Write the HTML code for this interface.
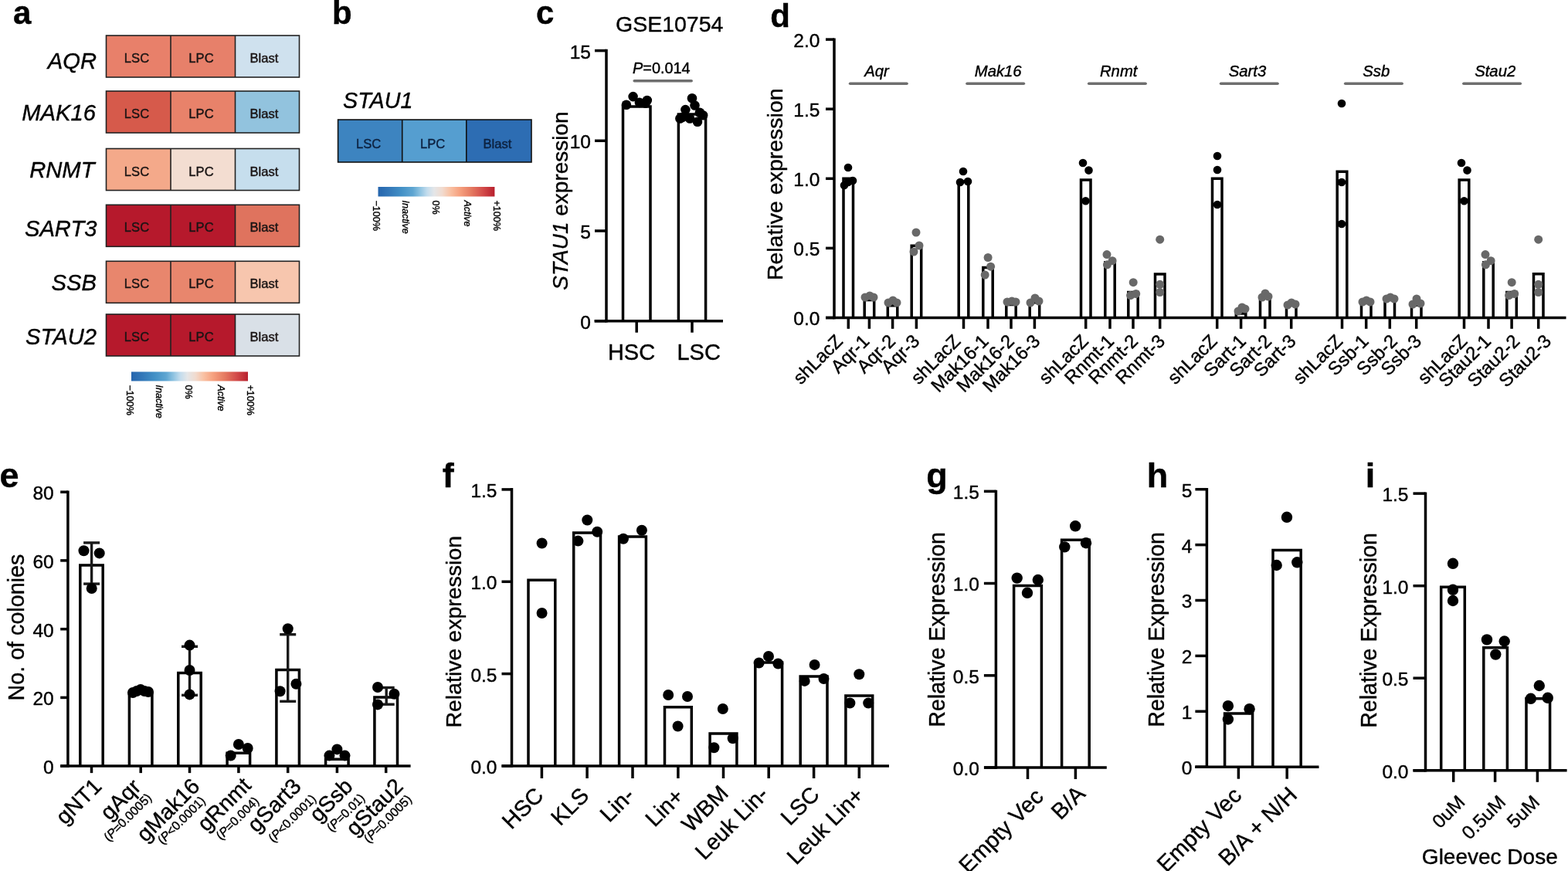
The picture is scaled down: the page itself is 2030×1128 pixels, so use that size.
<!DOCTYPE html>
<html><head><meta charset="utf-8"><title>Figure</title>
<style>html,body{margin:0;padding:0;background:#fff;width:2030px;height:1128px;overflow:hidden}</style>
</head><body>
<svg width="2030" height="1128" viewBox="0 0 2030 1128" style="display:block;font-family:'Liberation Sans', Arial, Helvetica, sans-serif"><defs><linearGradient id="rdbu" x1="0" x2="1" y1="0" y2="0"><stop offset="0.000" stop-color="#2565ad"/><stop offset="0.100" stop-color="#3479b9"/><stop offset="0.200" stop-color="#4290c6"/><stop offset="0.300" stop-color="#5fa6d2"/><stop offset="0.360" stop-color="#8ec3e1"/><stop offset="0.420" stop-color="#c3dced"/><stop offset="0.480" stop-color="#e4e6e8"/><stop offset="0.550" stop-color="#f1dbcf"/><stop offset="0.620" stop-color="#f9c1a3"/><stop offset="0.700" stop-color="#f6a17f"/><stop offset="0.800" stop-color="#e57a61"/><stop offset="0.900" stop-color="#d34c4a"/><stop offset="1.000" stop-color="#b8202e"/></linearGradient></defs>
<text x="17.0" y="31.0" text-anchor="start" style="font-size:42px;stroke:#000;stroke-width:0.4px;font-weight:bold;">a</text>
<text x="430.0" y="31.0" text-anchor="start" style="font-size:42px;stroke:#000;stroke-width:0.4px;font-weight:bold;">b</text>
<text x="694.0" y="31.0" text-anchor="start" style="font-size:42px;stroke:#000;stroke-width:0.4px;font-weight:bold;">c</text>
<text x="997.3" y="35.2" text-anchor="start" style="font-size:42px;stroke:#000;stroke-width:0.4px;font-weight:bold;">d</text>
<text x="-0.5" y="630.6" text-anchor="start" style="font-size:45px;stroke:#000;stroke-width:0.4px;font-weight:bold;">e</text>
<text x="572.8" y="630.6" text-anchor="start" style="font-size:45px;stroke:#000;stroke-width:0.4px;font-weight:bold;">f</text>
<text x="1199.3" y="630.6" text-anchor="start" style="font-size:45px;stroke:#000;stroke-width:0.4px;font-weight:bold;">g</text>
<text x="1484.8" y="630.6" text-anchor="start" style="font-size:45px;stroke:#000;stroke-width:0.4px;font-weight:bold;">h</text>
<text x="1767.8" y="630.6" text-anchor="start" style="font-size:45px;stroke:#000;stroke-width:0.4px;font-weight:bold;">i</text>
<rect x="137.5" y="46.0" width="83.5" height="54.0" fill="#E8806A"/>
<rect x="221.0" y="46.0" width="83.5" height="54.0" fill="#E7806A"/>
<rect x="304.5" y="46.0" width="83.0" height="54.0" fill="#CFE1EE"/>
<rect x="137.5" y="46.0" width="250.0" height="54.0" fill="none" stroke="#222" stroke-width="1.6"/>
<line x1="221.0" y1="46.0" x2="221.0" y2="100.0" stroke="#222" stroke-width="1.6" stroke-linecap="butt"/>
<line x1="304.5" y1="46.0" x2="304.5" y2="100.0" stroke="#222" stroke-width="1.6" stroke-linecap="butt"/>
<text x="125.0" y="89.2" text-anchor="end" style="font-size:29.2px;stroke:#000;stroke-width:0.4px;font-style:italic;">AQR</text>
<text x="177.0" y="81.0" text-anchor="middle" style="font-size:16.6px;stroke:#1a1414;stroke-width:0.4px;fill:#1a1414;">LSC</text>
<text x="260.5" y="81.0" text-anchor="middle" style="font-size:16.6px;stroke:#1a1414;stroke-width:0.4px;fill:#1a1414;">LPC</text>
<text x="342.0" y="81.0" text-anchor="middle" style="font-size:16.6px;stroke:#1a1414;stroke-width:0.4px;fill:#1a1414;">Blast</text>
<rect x="137.5" y="118.0" width="83.5" height="54.0" fill="#D65A4B"/>
<rect x="221.0" y="118.0" width="83.5" height="54.0" fill="#E8826A"/>
<rect x="304.5" y="118.0" width="83.0" height="54.0" fill="#92C3DE"/>
<rect x="137.5" y="118.0" width="250.0" height="54.0" fill="none" stroke="#222" stroke-width="1.6"/>
<line x1="221.0" y1="118.0" x2="221.0" y2="172.0" stroke="#222" stroke-width="1.6" stroke-linecap="butt"/>
<line x1="304.5" y1="118.0" x2="304.5" y2="172.0" stroke="#222" stroke-width="1.6" stroke-linecap="butt"/>
<text x="124.0" y="156.3" text-anchor="end" style="font-size:29.2px;stroke:#000;stroke-width:0.4px;font-style:italic;">MAK16</text>
<text x="177.0" y="153.0" text-anchor="middle" style="font-size:16.6px;stroke:#1a1414;stroke-width:0.4px;fill:#1a1414;">LSC</text>
<text x="260.5" y="153.0" text-anchor="middle" style="font-size:16.6px;stroke:#1a1414;stroke-width:0.4px;fill:#1a1414;">LPC</text>
<text x="342.0" y="153.0" text-anchor="middle" style="font-size:16.6px;stroke:#1a1414;stroke-width:0.4px;fill:#1a1414;">Blast</text>
<rect x="137.5" y="192.5" width="83.5" height="54.0" fill="#F4A98A"/>
<rect x="221.0" y="192.5" width="83.5" height="54.0" fill="#F3DDD1"/>
<rect x="304.5" y="192.5" width="83.0" height="54.0" fill="#C6DEED"/>
<rect x="137.5" y="192.5" width="250.0" height="54.0" fill="none" stroke="#222" stroke-width="1.6"/>
<line x1="221.0" y1="192.5" x2="221.0" y2="246.5" stroke="#222" stroke-width="1.6" stroke-linecap="butt"/>
<line x1="304.5" y1="192.5" x2="304.5" y2="246.5" stroke="#222" stroke-width="1.6" stroke-linecap="butt"/>
<text x="122.5" y="229.5" text-anchor="end" style="font-size:29.2px;stroke:#000;stroke-width:0.4px;font-style:italic;">RNMT</text>
<text x="177.0" y="227.5" text-anchor="middle" style="font-size:16.6px;stroke:#1a1414;stroke-width:0.4px;fill:#1a1414;">LSC</text>
<text x="260.5" y="227.5" text-anchor="middle" style="font-size:16.6px;stroke:#1a1414;stroke-width:0.4px;fill:#1a1414;">LPC</text>
<text x="342.0" y="227.5" text-anchor="middle" style="font-size:16.6px;stroke:#1a1414;stroke-width:0.4px;fill:#1a1414;">Blast</text>
<rect x="137.5" y="265.3" width="83.5" height="54.0" fill="#B6192C"/>
<rect x="221.0" y="265.3" width="83.5" height="54.0" fill="#B6192C"/>
<rect x="304.5" y="265.3" width="83.0" height="54.0" fill="#DF735E"/>
<rect x="137.5" y="265.3" width="250.0" height="54.0" fill="none" stroke="#222" stroke-width="1.6"/>
<line x1="221.0" y1="265.3" x2="221.0" y2="319.3" stroke="#222" stroke-width="1.6" stroke-linecap="butt"/>
<line x1="304.5" y1="265.3" x2="304.5" y2="319.3" stroke="#222" stroke-width="1.6" stroke-linecap="butt"/>
<text x="125.5" y="306.3" text-anchor="end" style="font-size:29.2px;stroke:#000;stroke-width:0.4px;font-style:italic;">SART3</text>
<text x="177.0" y="300.3" text-anchor="middle" style="font-size:16.6px;stroke:#1a1414;stroke-width:0.4px;fill:#1a1414;">LSC</text>
<text x="260.5" y="300.3" text-anchor="middle" style="font-size:16.6px;stroke:#1a1414;stroke-width:0.4px;fill:#1a1414;">LPC</text>
<text x="342.0" y="300.3" text-anchor="middle" style="font-size:16.6px;stroke:#1a1414;stroke-width:0.4px;fill:#1a1414;">Blast</text>
<rect x="137.5" y="338.3" width="83.5" height="54.0" fill="#E8866D"/>
<rect x="221.0" y="338.3" width="83.5" height="54.0" fill="#E8866D"/>
<rect x="304.5" y="338.3" width="83.0" height="54.0" fill="#F7C6AE"/>
<rect x="137.5" y="338.3" width="250.0" height="54.0" fill="none" stroke="#222" stroke-width="1.6"/>
<line x1="221.0" y1="338.3" x2="221.0" y2="392.3" stroke="#222" stroke-width="1.6" stroke-linecap="butt"/>
<line x1="304.5" y1="338.3" x2="304.5" y2="392.3" stroke="#222" stroke-width="1.6" stroke-linecap="butt"/>
<text x="125.0" y="375.9" text-anchor="end" style="font-size:29.2px;stroke:#000;stroke-width:0.4px;font-style:italic;">SSB</text>
<text x="177.0" y="373.3" text-anchor="middle" style="font-size:16.6px;stroke:#1a1414;stroke-width:0.4px;fill:#1a1414;">LSC</text>
<text x="260.5" y="373.3" text-anchor="middle" style="font-size:16.6px;stroke:#1a1414;stroke-width:0.4px;fill:#1a1414;">LPC</text>
<text x="342.0" y="373.3" text-anchor="middle" style="font-size:16.6px;stroke:#1a1414;stroke-width:0.4px;fill:#1a1414;">Blast</text>
<rect x="137.5" y="407.0" width="83.5" height="54.0" fill="#B6192C"/>
<rect x="221.0" y="407.0" width="83.5" height="54.0" fill="#B6192C"/>
<rect x="304.5" y="407.0" width="83.0" height="54.0" fill="#D9E0E7"/>
<rect x="137.5" y="407.0" width="250.0" height="54.0" fill="none" stroke="#222" stroke-width="1.6"/>
<line x1="221.0" y1="407.0" x2="221.0" y2="461.0" stroke="#222" stroke-width="1.6" stroke-linecap="butt"/>
<line x1="304.5" y1="407.0" x2="304.5" y2="461.0" stroke="#222" stroke-width="1.6" stroke-linecap="butt"/>
<text x="125.0" y="446.0" text-anchor="end" style="font-size:29.2px;stroke:#000;stroke-width:0.4px;font-style:italic;">STAU2</text>
<text x="177.0" y="442.0" text-anchor="middle" style="font-size:16.6px;stroke:#1a1414;stroke-width:0.4px;fill:#1a1414;">LSC</text>
<text x="260.5" y="442.0" text-anchor="middle" style="font-size:16.6px;stroke:#1a1414;stroke-width:0.4px;fill:#1a1414;">LPC</text>
<text x="342.0" y="442.0" text-anchor="middle" style="font-size:16.6px;stroke:#1a1414;stroke-width:0.4px;fill:#1a1414;">Blast</text>
<rect x="170" y="481.5" width="151" height="12.0" fill="url(#rdbu)"/>
<text transform="translate(163.5,498.5) rotate(90)" text-anchor="start" style="font-size:12.5px;stroke:#000;stroke-width:0.4px;">−100%</text>
<text transform="translate(201.5,498.5) rotate(90)" text-anchor="start" style="font-size:12.5px;stroke:#000;stroke-width:0.4px;font-style:italic;">Inactive</text>
<text transform="translate(240.0,498.5) rotate(90)" text-anchor="start" style="font-size:12.5px;stroke:#000;stroke-width:0.4px;">0%</text>
<text transform="translate(281.5,498.5) rotate(90)" text-anchor="start" style="font-size:12.5px;stroke:#000;stroke-width:0.4px;font-style:italic;">Active</text>
<text transform="translate(319.5,498.5) rotate(90)" text-anchor="start" style="font-size:12.5px;stroke:#000;stroke-width:0.4px;">+100%</text>
<text x="444.0" y="140.0" text-anchor="start" style="font-size:28.7px;stroke:#000;stroke-width:0.4px;font-style:italic;">STAU1</text>
<rect x="437.6" y="155.0" width="83.1" height="55.0" fill="#3D84C0"/>
<rect x="520.7" y="155.0" width="83.1" height="55.0" fill="#559ED0"/>
<rect x="603.8" y="155.0" width="84.2" height="55.0" fill="#2D6DB3"/>
<rect x="437.6" y="155.0" width="250.4" height="55.0" fill="none" stroke="#111" stroke-width="1.6"/>
<line x1="520.7" y1="155.0" x2="520.7" y2="210.0" stroke="#111" stroke-width="1.6" stroke-linecap="butt"/>
<line x1="603.8" y1="155.0" x2="603.8" y2="210.0" stroke="#111" stroke-width="1.6" stroke-linecap="butt"/>
<text x="477.2" y="192.0" text-anchor="middle" style="font-size:16.6px;stroke:#0d2240;stroke-width:0.4px;fill:#0d2240;">LSC</text>
<text x="560.2" y="192.0" text-anchor="middle" style="font-size:16.6px;stroke:#0d2240;stroke-width:0.4px;fill:#0d2240;">LPC</text>
<text x="643.9" y="192.0" text-anchor="middle" style="font-size:16.6px;stroke:#0d2240;stroke-width:0.4px;fill:#0d2240;">Blast</text>
<rect x="489.5" y="242" width="150.89999999999998" height="12.5" fill="url(#rdbu)"/>
<text transform="translate(483.0,259.5) rotate(90)" text-anchor="start" style="font-size:12.5px;stroke:#000;stroke-width:0.4px;">−100%</text>
<text transform="translate(521.0,259.5) rotate(90)" text-anchor="start" style="font-size:12.5px;stroke:#000;stroke-width:0.4px;font-style:italic;">Inactive</text>
<text transform="translate(559.5,259.5) rotate(90)" text-anchor="start" style="font-size:12.5px;stroke:#000;stroke-width:0.4px;">0%</text>
<text transform="translate(601.0,259.5) rotate(90)" text-anchor="start" style="font-size:12.5px;stroke:#000;stroke-width:0.4px;font-style:italic;">Active</text>
<text transform="translate(639.0,259.5) rotate(90)" text-anchor="start" style="font-size:12.5px;stroke:#000;stroke-width:0.4px;">+100%</text>
<line x1="785.0" y1="63.8" x2="785.0" y2="417.4" stroke="#000" stroke-width="3.5" stroke-linecap="butt"/>
<line x1="770.0" y1="415.7" x2="785.0" y2="415.7" stroke="#000" stroke-width="3.5" stroke-linecap="butt"/>
<text x="765.0" y="425.6" text-anchor="end" style="font-size:24.5px;stroke:#000;stroke-width:0.4px;">0</text>
<line x1="770.0" y1="299.0" x2="785.0" y2="299.0" stroke="#000" stroke-width="3.5" stroke-linecap="butt"/>
<text x="765.0" y="308.9" text-anchor="end" style="font-size:24.5px;stroke:#000;stroke-width:0.4px;">5</text>
<line x1="770.0" y1="182.3" x2="785.0" y2="182.3" stroke="#000" stroke-width="3.5" stroke-linecap="butt"/>
<text x="765.0" y="192.2" text-anchor="end" style="font-size:24.5px;stroke:#000;stroke-width:0.4px;">10</text>
<line x1="770.0" y1="65.6" x2="785.0" y2="65.6" stroke="#000" stroke-width="3.5" stroke-linecap="butt"/>
<text x="765.0" y="75.5" text-anchor="end" style="font-size:24.5px;stroke:#000;stroke-width:0.4px;">15</text>
<path d="M806.5,415.7 L806.5,138.0 L842.0,138.0 L842.0,415.7" fill="#fff" stroke="#000" stroke-width="3.5" stroke-linejoin="miter"/>
<path d="M878.4,415.7 L878.4,148.0 L913.6,148.0 L913.6,415.7" fill="#fff" stroke="#000" stroke-width="3.5" stroke-linejoin="miter"/>
<line x1="769.5" y1="415.7" x2="936.0" y2="415.7" stroke="#000" stroke-width="3.5" stroke-linecap="butt"/>
<line x1="824.2" y1="415.7" x2="824.2" y2="430.7" stroke="#000" stroke-width="3.5" stroke-linecap="butt"/>
<line x1="896.0" y1="415.7" x2="896.0" y2="430.7" stroke="#000" stroke-width="3.5" stroke-linecap="butt"/>
<circle cx="810.9" cy="135.7" r="6.3" fill="#000"/>
<circle cx="819.6" cy="125.1" r="6.3" fill="#000"/>
<circle cx="827.9" cy="132.9" r="6.3" fill="#000"/>
<circle cx="837.8" cy="130.0" r="6.3" fill="#000"/>
<circle cx="835.7" cy="133.6" r="6.3" fill="#000"/>
<circle cx="896.0" cy="127.2" r="6.3" fill="#000"/>
<circle cx="899.5" cy="136.5" r="6.3" fill="#000"/>
<circle cx="887.4" cy="142.1" r="6.3" fill="#000"/>
<circle cx="883.2" cy="152.0" r="6.3" fill="#000"/>
<circle cx="905.9" cy="145.7" r="6.3" fill="#000"/>
<circle cx="910.1" cy="149.2" r="6.3" fill="#000"/>
<circle cx="903.0" cy="157.7" r="6.3" fill="#000"/>
<circle cx="893.1" cy="153.5" r="6.3" fill="#000"/>
<circle cx="880.4" cy="153.5" r="6.3" fill="#000"/>
<line x1="821.2" y1="104.7" x2="895.2" y2="104.7" stroke="#6e6e6e" stroke-width="3.5" stroke-linecap="round"/>
<text x="819.0" y="94.6" text-anchor="start" style="font-size:19.9px;stroke:#000;stroke-width:0.4px;"><tspan style="font-style:italic">P</tspan>=0.014</text>
<text x="866.7" y="41.0" text-anchor="middle" style="font-size:28.5px;stroke:#000;stroke-width:0.4px;">GSE10754</text>
<text x="817.5" y="466.0" text-anchor="middle" style="font-size:29px;stroke:#000;stroke-width:0.4px;">HSC</text>
<text x="904.7" y="466.0" text-anchor="middle" style="font-size:29px;stroke:#000;stroke-width:0.4px;">LSC</text>
<text transform="translate(735.0,260.0) rotate(-90)" text-anchor="middle" style="font-size:28px;stroke:#000;stroke-width:0.4px;"><tspan style="font-style:italic">STAU1</tspan> expression</text>
<line x1="1080.0" y1="49.5" x2="1080.0" y2="413.2" stroke="#000" stroke-width="3.5" stroke-linecap="butt"/>
<line x1="1069.0" y1="411.5" x2="1080.0" y2="411.5" stroke="#000" stroke-width="3.5" stroke-linecap="butt"/>
<text x="1061.4" y="421.4" text-anchor="end" style="font-size:24.5px;stroke:#000;stroke-width:0.4px;">0.0</text>
<line x1="1069.0" y1="321.4" x2="1080.0" y2="321.4" stroke="#000" stroke-width="3.5" stroke-linecap="butt"/>
<text x="1061.4" y="331.3" text-anchor="end" style="font-size:24.5px;stroke:#000;stroke-width:0.4px;">0.5</text>
<line x1="1069.0" y1="231.3" x2="1080.0" y2="231.3" stroke="#000" stroke-width="3.5" stroke-linecap="butt"/>
<text x="1061.4" y="241.2" text-anchor="end" style="font-size:24.5px;stroke:#000;stroke-width:0.4px;">1.0</text>
<line x1="1069.0" y1="141.2" x2="1080.0" y2="141.2" stroke="#000" stroke-width="3.5" stroke-linecap="butt"/>
<text x="1061.4" y="151.1" text-anchor="end" style="font-size:24.5px;stroke:#000;stroke-width:0.4px;">1.5</text>
<line x1="1069.0" y1="51.1" x2="1080.0" y2="51.1" stroke="#000" stroke-width="3.5" stroke-linecap="butt"/>
<text x="1061.4" y="61.0" text-anchor="end" style="font-size:24.5px;stroke:#000;stroke-width:0.4px;">2.0</text>
<path d="M1092.0,411.5 L1092.0,231.3 L1104.5,231.3 L1104.5,411.5" fill="#fff" stroke="#000" stroke-width="3.5" stroke-linejoin="miter"/>
<path d="M1119.2,411.5 L1119.2,388.6 L1131.7,388.6 L1131.7,411.5" fill="#fff" stroke="#000" stroke-width="3.5" stroke-linejoin="miter"/>
<path d="M1149.3,411.5 L1149.3,395.8 L1161.8,395.8 L1161.8,411.5" fill="#fff" stroke="#000" stroke-width="3.5" stroke-linejoin="miter"/>
<path d="M1180.2,411.5 L1180.2,318.3 L1192.7,318.3 L1192.7,411.5" fill="#fff" stroke="#000" stroke-width="3.5" stroke-linejoin="miter"/>
<circle cx="1098.0" cy="217.0" r="5.3" fill="#000"/>
<circle cx="1093.0" cy="240.0" r="5.3" fill="#000"/>
<circle cx="1104.0" cy="234.0" r="5.3" fill="#000"/>
<circle cx="1098.0" cy="236.0" r="5.3" fill="#000"/>
<circle cx="1120.0" cy="385.0" r="5.5" fill="#686868"/>
<circle cx="1126.0" cy="383.0" r="5.5" fill="#686868"/>
<circle cx="1131.0" cy="385.0" r="5.5" fill="#686868"/>
<circle cx="1150.0" cy="392.0" r="5.5" fill="#686868"/>
<circle cx="1156.0" cy="389.0" r="5.5" fill="#686868"/>
<circle cx="1161.0" cy="392.0" r="5.5" fill="#686868"/>
<circle cx="1186.0" cy="301.0" r="5.5" fill="#686868"/>
<circle cx="1183.0" cy="326.0" r="5.5" fill="#686868"/>
<circle cx="1190.0" cy="318.0" r="5.5" fill="#686868"/>
<line x1="1100.6" y1="108.3" x2="1174.0" y2="108.3" stroke="#6e6e6e" stroke-width="3.6" stroke-linecap="round"/>
<text x="1135.0" y="99.0" text-anchor="middle" style="font-size:20.3px;stroke:#000;stroke-width:0.4px;font-style:italic;">Aqr</text>
<text transform="translate(1092.4,443.3) rotate(-45)" text-anchor="end" style="font-size:24px;stroke:#000;stroke-width:0.4px;">shLacZ</text>
<text transform="translate(1127.0,443.3) rotate(-45)" text-anchor="end" style="font-size:24px;stroke:#000;stroke-width:0.4px;">Aqr-1</text>
<text transform="translate(1160.6,443.3) rotate(-45)" text-anchor="end" style="font-size:24px;stroke:#000;stroke-width:0.4px;">Aqr-2</text>
<text transform="translate(1192.0,443.3) rotate(-45)" text-anchor="end" style="font-size:24px;stroke:#000;stroke-width:0.4px;">Aqr-3</text>
<path d="M1241.2,411.5 L1241.2,234.9 L1253.8,234.9 L1253.8,411.5" fill="#fff" stroke="#000" stroke-width="3.5" stroke-linejoin="miter"/>
<path d="M1272.8,411.5 L1272.8,346.6 L1285.2,346.6 L1285.2,411.5" fill="#fff" stroke="#000" stroke-width="3.5" stroke-linejoin="miter"/>
<path d="M1302.8,411.5 L1302.8,394.4 L1315.2,394.4 L1315.2,411.5" fill="#fff" stroke="#000" stroke-width="3.5" stroke-linejoin="miter"/>
<path d="M1333.2,411.5 L1333.2,391.7 L1345.7,391.7 L1345.7,411.5" fill="#fff" stroke="#000" stroke-width="3.5" stroke-linejoin="miter"/>
<circle cx="1247.0" cy="222.0" r="5.3" fill="#000"/>
<circle cx="1243.0" cy="236.0" r="5.3" fill="#000"/>
<circle cx="1253.0" cy="235.0" r="5.3" fill="#000"/>
<circle cx="1279.1" cy="333.5" r="5.5" fill="#686868"/>
<circle cx="1282.6" cy="345.2" r="5.5" fill="#686868"/>
<circle cx="1275.2" cy="356.0" r="5.5" fill="#686868"/>
<circle cx="1304.0" cy="391.0" r="5.5" fill="#686868"/>
<circle cx="1310.0" cy="390.0" r="5.5" fill="#686868"/>
<circle cx="1315.0" cy="391.0" r="5.5" fill="#686868"/>
<circle cx="1334.0" cy="392.0" r="5.5" fill="#686868"/>
<circle cx="1340.0" cy="386.0" r="5.5" fill="#686868"/>
<circle cx="1345.0" cy="390.0" r="5.5" fill="#686868"/>
<line x1="1252.0" y1="108.3" x2="1325.4" y2="108.3" stroke="#6e6e6e" stroke-width="3.6" stroke-linecap="round"/>
<text x="1292.2" y="99.0" text-anchor="middle" style="font-size:20.3px;stroke:#000;stroke-width:0.4px;font-style:italic;">Mak16</text>
<text transform="translate(1244.8,443.3) rotate(-45)" text-anchor="end" style="font-size:24px;stroke:#000;stroke-width:0.4px;">shLacZ</text>
<text transform="translate(1281.2,443.3) rotate(-45)" text-anchor="end" style="font-size:24px;stroke:#000;stroke-width:0.4px;">Mak16-1</text>
<text transform="translate(1314.4,443.3) rotate(-45)" text-anchor="end" style="font-size:24px;stroke:#000;stroke-width:0.4px;">Mak16-2</text>
<text transform="translate(1348.0,443.3) rotate(-45)" text-anchor="end" style="font-size:24px;stroke:#000;stroke-width:0.4px;">Mak16-3</text>
<path d="M1399.5,411.5 L1399.5,233.1 L1412.0,233.1 L1412.0,411.5" fill="#fff" stroke="#000" stroke-width="3.5" stroke-linejoin="miter"/>
<path d="M1430.8,411.5 L1430.8,339.8 L1443.2,339.8 L1443.2,411.5" fill="#fff" stroke="#000" stroke-width="3.5" stroke-linejoin="miter"/>
<path d="M1460.8,411.5 L1460.8,378.5 L1473.2,378.5 L1473.2,411.5" fill="#fff" stroke="#000" stroke-width="3.5" stroke-linejoin="miter"/>
<path d="M1495.5,411.5 L1495.5,354.9 L1508.0,354.9 L1508.0,411.5" fill="#fff" stroke="#000" stroke-width="3.5" stroke-linejoin="miter"/>
<circle cx="1402.0" cy="211.0" r="5.3" fill="#000"/>
<circle cx="1409.5" cy="220.6" r="5.3" fill="#000"/>
<circle cx="1405.5" cy="260.3" r="5.3" fill="#000"/>
<circle cx="1433.0" cy="329.6" r="5.5" fill="#686868"/>
<circle cx="1440.1" cy="337.7" r="5.5" fill="#686868"/>
<circle cx="1433.4" cy="342.8" r="5.5" fill="#686868"/>
<circle cx="1467.2" cy="365.7" r="5.5" fill="#686868"/>
<circle cx="1463.6" cy="382.6" r="5.5" fill="#686868"/>
<circle cx="1470.7" cy="380.5" r="5.5" fill="#686868"/>
<circle cx="1501.7" cy="310.2" r="5.5" fill="#686868"/>
<circle cx="1501.7" cy="368.3" r="5.5" fill="#686868"/>
<circle cx="1501.7" cy="378.5" r="5.5" fill="#686868"/>
<line x1="1409.7" y1="108.3" x2="1483.1" y2="108.3" stroke="#6e6e6e" stroke-width="3.6" stroke-linecap="round"/>
<text x="1448.2" y="99.0" text-anchor="middle" style="font-size:20.3px;stroke:#000;stroke-width:0.4px;font-style:italic;">Rnmt</text>
<text transform="translate(1410.3,443.3) rotate(-45)" text-anchor="end" style="font-size:24px;stroke:#000;stroke-width:0.4px;">shLacZ</text>
<text transform="translate(1443.6,443.3) rotate(-45)" text-anchor="end" style="font-size:24px;stroke:#000;stroke-width:0.4px;">Rnmt-1</text>
<text transform="translate(1474.6,443.3) rotate(-45)" text-anchor="end" style="font-size:24px;stroke:#000;stroke-width:0.4px;">Rnmt-2</text>
<text transform="translate(1509.6,443.3) rotate(-45)" text-anchor="end" style="font-size:24px;stroke:#000;stroke-width:0.4px;">Rnmt-3</text>
<path d="M1569.5,411.5 L1569.5,231.3 L1582.0,231.3 L1582.0,411.5" fill="#fff" stroke="#000" stroke-width="3.5" stroke-linejoin="miter"/>
<path d="M1600.3,411.5 L1600.3,406.1 L1612.8,406.1 L1612.8,411.5" fill="#fff" stroke="#000" stroke-width="3.5" stroke-linejoin="miter"/>
<path d="M1631.5,411.5 L1631.5,384.5 L1644.0,384.5 L1644.0,411.5" fill="#fff" stroke="#000" stroke-width="3.5" stroke-linejoin="miter"/>
<path d="M1665.5,411.5 L1665.5,395.3 L1678.0,395.3 L1678.0,411.5" fill="#fff" stroke="#000" stroke-width="3.5" stroke-linejoin="miter"/>
<circle cx="1576.0" cy="202.0" r="5.3" fill="#000"/>
<circle cx="1576.0" cy="220.0" r="5.3" fill="#000"/>
<circle cx="1576.0" cy="265.0" r="5.3" fill="#000"/>
<circle cx="1603.0" cy="403.0" r="5.5" fill="#686868"/>
<circle cx="1608.0" cy="398.0" r="5.5" fill="#686868"/>
<circle cx="1612.0" cy="400.0" r="5.5" fill="#686868"/>
<circle cx="1634.0" cy="385.0" r="5.5" fill="#686868"/>
<circle cx="1638.0" cy="380.0" r="5.5" fill="#686868"/>
<circle cx="1642.0" cy="384.0" r="5.5" fill="#686868"/>
<circle cx="1667.0" cy="395.0" r="5.5" fill="#686868"/>
<circle cx="1672.0" cy="392.0" r="5.5" fill="#686868"/>
<circle cx="1677.0" cy="394.0" r="5.5" fill="#686868"/>
<line x1="1580.6" y1="108.3" x2="1654.0" y2="108.3" stroke="#6e6e6e" stroke-width="3.6" stroke-linecap="round"/>
<text x="1615.0" y="99.0" text-anchor="middle" style="font-size:20.3px;stroke:#000;stroke-width:0.4px;font-style:italic;">Sart3</text>
<text transform="translate(1577.2,443.3) rotate(-45)" text-anchor="end" style="font-size:24px;stroke:#000;stroke-width:0.4px;">shLacZ</text>
<text transform="translate(1614.5,443.3) rotate(-45)" text-anchor="end" style="font-size:24px;stroke:#000;stroke-width:0.4px;">Sart-1</text>
<text transform="translate(1647.7,443.3) rotate(-45)" text-anchor="end" style="font-size:24px;stroke:#000;stroke-width:0.4px;">Sart-2</text>
<text transform="translate(1679.2,443.3) rotate(-45)" text-anchor="end" style="font-size:24px;stroke:#000;stroke-width:0.4px;">Sart-3</text>
<path d="M1731.2,411.5 L1731.2,222.3 L1743.8,222.3 L1743.8,411.5" fill="#fff" stroke="#000" stroke-width="3.5" stroke-linejoin="miter"/>
<path d="M1762.5,411.5 L1762.5,391.7 L1775.0,391.7 L1775.0,411.5" fill="#fff" stroke="#000" stroke-width="3.5" stroke-linejoin="miter"/>
<path d="M1793.0,411.5 L1793.0,388.1 L1805.5,388.1 L1805.5,411.5" fill="#fff" stroke="#000" stroke-width="3.5" stroke-linejoin="miter"/>
<path d="M1827.5,411.5 L1827.5,395.3 L1840.0,395.3 L1840.0,411.5" fill="#fff" stroke="#000" stroke-width="3.5" stroke-linejoin="miter"/>
<circle cx="1737.0" cy="134.0" r="5.3" fill="#000"/>
<circle cx="1737.0" cy="236.0" r="5.3" fill="#000"/>
<circle cx="1737.0" cy="290.0" r="5.3" fill="#000"/>
<circle cx="1764.0" cy="391.0" r="5.5" fill="#686868"/>
<circle cx="1769.0" cy="389.0" r="5.5" fill="#686868"/>
<circle cx="1774.0" cy="391.0" r="5.5" fill="#686868"/>
<circle cx="1795.0" cy="387.0" r="5.5" fill="#686868"/>
<circle cx="1800.0" cy="385.0" r="5.5" fill="#686868"/>
<circle cx="1805.0" cy="387.0" r="5.5" fill="#686868"/>
<circle cx="1829.0" cy="394.0" r="5.5" fill="#686868"/>
<circle cx="1834.0" cy="387.0" r="5.5" fill="#686868"/>
<circle cx="1839.0" cy="393.0" r="5.5" fill="#686868"/>
<line x1="1741.7" y1="108.3" x2="1815.1" y2="108.3" stroke="#6e6e6e" stroke-width="3.6" stroke-linecap="round"/>
<text x="1781.7" y="99.0" text-anchor="middle" style="font-size:20.3px;stroke:#000;stroke-width:0.4px;font-style:italic;">Ssb</text>
<text transform="translate(1739.5,443.3) rotate(-45)" text-anchor="end" style="font-size:24px;stroke:#000;stroke-width:0.4px;">shLacZ</text>
<text transform="translate(1773.2,443.3) rotate(-45)" text-anchor="end" style="font-size:24px;stroke:#000;stroke-width:0.4px;">Ssb-1</text>
<text transform="translate(1810.4,443.3) rotate(-45)" text-anchor="end" style="font-size:24px;stroke:#000;stroke-width:0.4px;">Ssb-2</text>
<text transform="translate(1841.8,443.3) rotate(-45)" text-anchor="end" style="font-size:24px;stroke:#000;stroke-width:0.4px;">Ssb-3</text>
<path d="M1889.2,411.5 L1889.2,233.1 L1901.8,233.1 L1901.8,411.5" fill="#fff" stroke="#000" stroke-width="3.5" stroke-linejoin="miter"/>
<path d="M1920.8,411.5 L1920.8,339.8 L1933.2,339.8 L1933.2,411.5" fill="#fff" stroke="#000" stroke-width="3.5" stroke-linejoin="miter"/>
<path d="M1950.8,411.5 L1950.8,378.5 L1963.3,378.5 L1963.3,411.5" fill="#fff" stroke="#000" stroke-width="3.5" stroke-linejoin="miter"/>
<path d="M1985.5,411.5 L1985.5,354.7 L1998.0,354.7 L1998.0,411.5" fill="#fff" stroke="#000" stroke-width="3.5" stroke-linejoin="miter"/>
<circle cx="1892.0" cy="211.0" r="5.3" fill="#000"/>
<circle cx="1899.5" cy="220.6" r="5.3" fill="#000"/>
<circle cx="1895.5" cy="260.3" r="5.3" fill="#000"/>
<circle cx="1923.0" cy="329.6" r="5.5" fill="#686868"/>
<circle cx="1930.1" cy="337.7" r="5.5" fill="#686868"/>
<circle cx="1923.4" cy="342.8" r="5.5" fill="#686868"/>
<circle cx="1957.2" cy="365.7" r="5.5" fill="#686868"/>
<circle cx="1953.6" cy="382.6" r="5.5" fill="#686868"/>
<circle cx="1960.7" cy="380.5" r="5.5" fill="#686868"/>
<circle cx="1991.7" cy="310.2" r="5.5" fill="#686868"/>
<circle cx="1991.7" cy="368.3" r="5.5" fill="#686868"/>
<circle cx="1991.7" cy="378.5" r="5.5" fill="#686868"/>
<line x1="1894.9" y1="108.3" x2="1968.3" y2="108.3" stroke="#6e6e6e" stroke-width="3.6" stroke-linecap="round"/>
<text x="1935.7" y="99.0" text-anchor="middle" style="font-size:20.3px;stroke:#000;stroke-width:0.4px;font-style:italic;">Stau2</text>
<text transform="translate(1900.8,443.3) rotate(-45)" text-anchor="end" style="font-size:24px;stroke:#000;stroke-width:0.4px;">shLacZ</text>
<text transform="translate(1931.8,443.3) rotate(-45)" text-anchor="end" style="font-size:24px;stroke:#000;stroke-width:0.4px;">Stau2-1</text>
<text transform="translate(1969.0,443.3) rotate(-45)" text-anchor="end" style="font-size:24px;stroke:#000;stroke-width:0.4px;">Stau2-2</text>
<text transform="translate(2009.8,443.3) rotate(-45)" text-anchor="end" style="font-size:24px;stroke:#000;stroke-width:0.4px;">Stau2-3</text>
<line x1="1069.0" y1="411.5" x2="2027.5" y2="411.5" stroke="#000" stroke-width="3.5" stroke-linecap="butt"/>
<line x1="1098.3" y1="411.5" x2="1098.3" y2="425.8" stroke="#000" stroke-width="3.5" stroke-linecap="butt"/>
<line x1="1125.4" y1="411.5" x2="1125.4" y2="425.8" stroke="#000" stroke-width="3.5" stroke-linecap="butt"/>
<line x1="1155.6" y1="411.5" x2="1155.6" y2="425.8" stroke="#000" stroke-width="3.5" stroke-linecap="butt"/>
<line x1="1186.4" y1="411.5" x2="1186.4" y2="425.8" stroke="#000" stroke-width="3.5" stroke-linecap="butt"/>
<line x1="1247.5" y1="411.5" x2="1247.5" y2="425.8" stroke="#000" stroke-width="3.5" stroke-linecap="butt"/>
<line x1="1279.0" y1="411.5" x2="1279.0" y2="425.8" stroke="#000" stroke-width="3.5" stroke-linecap="butt"/>
<line x1="1309.0" y1="411.5" x2="1309.0" y2="425.8" stroke="#000" stroke-width="3.5" stroke-linecap="butt"/>
<line x1="1339.4" y1="411.5" x2="1339.4" y2="425.8" stroke="#000" stroke-width="3.5" stroke-linecap="butt"/>
<line x1="1405.7" y1="411.5" x2="1405.7" y2="425.8" stroke="#000" stroke-width="3.5" stroke-linecap="butt"/>
<line x1="1437.0" y1="411.5" x2="1437.0" y2="425.8" stroke="#000" stroke-width="3.5" stroke-linecap="butt"/>
<line x1="1467.0" y1="411.5" x2="1467.0" y2="425.8" stroke="#000" stroke-width="3.5" stroke-linecap="butt"/>
<line x1="1501.7" y1="411.5" x2="1501.7" y2="425.8" stroke="#000" stroke-width="3.5" stroke-linecap="butt"/>
<line x1="1575.7" y1="411.5" x2="1575.7" y2="425.8" stroke="#000" stroke-width="3.5" stroke-linecap="butt"/>
<line x1="1606.6" y1="411.5" x2="1606.6" y2="425.8" stroke="#000" stroke-width="3.5" stroke-linecap="butt"/>
<line x1="1637.7" y1="411.5" x2="1637.7" y2="425.8" stroke="#000" stroke-width="3.5" stroke-linecap="butt"/>
<line x1="1671.7" y1="411.5" x2="1671.7" y2="425.8" stroke="#000" stroke-width="3.5" stroke-linecap="butt"/>
<line x1="1737.5" y1="411.5" x2="1737.5" y2="425.8" stroke="#000" stroke-width="3.5" stroke-linecap="butt"/>
<line x1="1768.7" y1="411.5" x2="1768.7" y2="425.8" stroke="#000" stroke-width="3.5" stroke-linecap="butt"/>
<line x1="1799.3" y1="411.5" x2="1799.3" y2="425.8" stroke="#000" stroke-width="3.5" stroke-linecap="butt"/>
<line x1="1833.7" y1="411.5" x2="1833.7" y2="425.8" stroke="#000" stroke-width="3.5" stroke-linecap="butt"/>
<line x1="1895.5" y1="411.5" x2="1895.5" y2="425.8" stroke="#000" stroke-width="3.5" stroke-linecap="butt"/>
<line x1="1927.0" y1="411.5" x2="1927.0" y2="425.8" stroke="#000" stroke-width="3.5" stroke-linecap="butt"/>
<line x1="1957.1" y1="411.5" x2="1957.1" y2="425.8" stroke="#000" stroke-width="3.5" stroke-linecap="butt"/>
<line x1="1991.7" y1="411.5" x2="1991.7" y2="425.8" stroke="#000" stroke-width="3.5" stroke-linecap="butt"/>
<text transform="translate(1013.0,238.7) rotate(-90)" text-anchor="middle" style="font-size:28.5px;stroke:#000;stroke-width:0.4px;">Relative expression</text>
<line x1="87.9" y1="635.6" x2="87.9" y2="993.9" stroke="#000" stroke-width="3.5" stroke-linecap="butt"/>
<line x1="78.2" y1="992.1" x2="87.9" y2="992.1" stroke="#000" stroke-width="3.5" stroke-linecap="butt"/>
<text x="69.7" y="1002.0" text-anchor="end" style="font-size:24.5px;stroke:#000;stroke-width:0.4px;">0</text>
<line x1="78.2" y1="903.4" x2="87.9" y2="903.4" stroke="#000" stroke-width="3.5" stroke-linecap="butt"/>
<text x="69.7" y="913.3" text-anchor="end" style="font-size:24.5px;stroke:#000;stroke-width:0.4px;">20</text>
<line x1="78.2" y1="814.7" x2="87.9" y2="814.7" stroke="#000" stroke-width="3.5" stroke-linecap="butt"/>
<text x="69.7" y="824.5" text-anchor="end" style="font-size:24.5px;stroke:#000;stroke-width:0.4px;">40</text>
<line x1="78.2" y1="725.9" x2="87.9" y2="725.9" stroke="#000" stroke-width="3.5" stroke-linecap="butt"/>
<text x="69.7" y="735.8" text-anchor="end" style="font-size:24.5px;stroke:#000;stroke-width:0.4px;">60</text>
<line x1="78.2" y1="637.2" x2="87.9" y2="637.2" stroke="#000" stroke-width="3.5" stroke-linecap="butt"/>
<text x="69.7" y="647.1" text-anchor="end" style="font-size:24.5px;stroke:#000;stroke-width:0.4px;">80</text>
<path d="M103.8,992.1 L103.8,732.1 L133.2,732.1 L133.2,992.1" fill="#fff" stroke="#000" stroke-width="3.5" stroke-linejoin="miter"/>
<path d="M167.4,992.1 L167.4,897.6 L196.9,897.6 L196.9,992.1" fill="#fff" stroke="#000" stroke-width="3.5" stroke-linejoin="miter"/>
<path d="M230.8,992.1 L230.8,871.4 L260.2,871.4 L260.2,992.1" fill="#fff" stroke="#000" stroke-width="3.5" stroke-linejoin="miter"/>
<path d="M294.1,992.1 L294.1,975.2 L323.6,975.2 L323.6,992.1" fill="#fff" stroke="#000" stroke-width="3.5" stroke-linejoin="miter"/>
<path d="M357.9,992.1 L357.9,867.4 L387.4,867.4 L387.4,992.1" fill="#fff" stroke="#000" stroke-width="3.5" stroke-linejoin="miter"/>
<path d="M421.6,992.1 L421.6,983.2 L451.1,983.2 L451.1,992.1" fill="#fff" stroke="#000" stroke-width="3.5" stroke-linejoin="miter"/>
<path d="M484.9,992.1 L484.9,902.9 L514.5,902.9 L514.5,992.1" fill="#fff" stroke="#000" stroke-width="3.5" stroke-linejoin="miter"/>
<line x1="118.6" y1="702.9" x2="118.6" y2="756.1" stroke="#1a1a1a" stroke-width="3.4" stroke-linecap="butt"/>
<line x1="108.1" y1="702.9" x2="129.1" y2="702.9" stroke="#1a1a1a" stroke-width="3.4" stroke-linecap="butt"/>
<line x1="108.1" y1="756.1" x2="129.1" y2="756.1" stroke="#1a1a1a" stroke-width="3.4" stroke-linecap="butt"/>
<line x1="245.5" y1="837.3" x2="245.5" y2="900.3" stroke="#1a1a1a" stroke-width="3.4" stroke-linecap="butt"/>
<line x1="235.0" y1="837.3" x2="256.0" y2="837.3" stroke="#1a1a1a" stroke-width="3.4" stroke-linecap="butt"/>
<line x1="235.0" y1="900.3" x2="256.0" y2="900.3" stroke="#1a1a1a" stroke-width="3.4" stroke-linecap="butt"/>
<line x1="372.7" y1="821.7" x2="372.7" y2="908.3" stroke="#1a1a1a" stroke-width="3.4" stroke-linecap="butt"/>
<line x1="362.2" y1="821.7" x2="383.2" y2="821.7" stroke="#1a1a1a" stroke-width="3.4" stroke-linecap="butt"/>
<line x1="362.2" y1="908.3" x2="383.2" y2="908.3" stroke="#1a1a1a" stroke-width="3.4" stroke-linecap="butt"/>
<line x1="500.2" y1="890.5" x2="500.2" y2="912.2" stroke="#1a1a1a" stroke-width="3.4" stroke-linecap="butt"/>
<line x1="489.7" y1="890.5" x2="510.7" y2="890.5" stroke="#1a1a1a" stroke-width="3.4" stroke-linecap="butt"/>
<line x1="489.7" y1="912.2" x2="510.7" y2="912.2" stroke="#1a1a1a" stroke-width="3.4" stroke-linecap="butt"/>
<circle cx="108.5" cy="713.2" r="7" fill="#000"/>
<circle cx="128.7" cy="716.4" r="7" fill="#000"/>
<circle cx="118.7" cy="762.0" r="7" fill="#000"/>
<circle cx="172.0" cy="897.0" r="7" fill="#000"/>
<circle cx="182.0" cy="893.0" r="7" fill="#000"/>
<circle cx="192.0" cy="896.0" r="7" fill="#000"/>
<circle cx="177.0" cy="895.0" r="7" fill="#000"/>
<circle cx="187.0" cy="895.0" r="7" fill="#000"/>
<circle cx="245.5" cy="835.6" r="7" fill="#000"/>
<circle cx="245.5" cy="868.0" r="7" fill="#000"/>
<circle cx="245.5" cy="899.4" r="7" fill="#000"/>
<circle cx="298.7" cy="978.6" r="7" fill="#000"/>
<circle cx="308.9" cy="964.0" r="7" fill="#000"/>
<circle cx="320.7" cy="969.0" r="7" fill="#000"/>
<circle cx="372.7" cy="814.3" r="7" fill="#000"/>
<circle cx="362.6" cy="895.2" r="7" fill="#000"/>
<circle cx="383.4" cy="885.7" r="7" fill="#000"/>
<circle cx="426.4" cy="978.6" r="7" fill="#000"/>
<circle cx="436.4" cy="970.4" r="7" fill="#000"/>
<circle cx="446.5" cy="978.6" r="7" fill="#000"/>
<circle cx="489.0" cy="890.0" r="7" fill="#000"/>
<circle cx="510.4" cy="898.7" r="7" fill="#000"/>
<circle cx="489.0" cy="912.4" r="7" fill="#000"/>
<line x1="78.2" y1="992.1" x2="531.6" y2="992.1" stroke="#000" stroke-width="3.5" stroke-linecap="butt"/>
<line x1="118.5" y1="992.1" x2="118.5" y2="1001.1" stroke="#000" stroke-width="3.5" stroke-linecap="butt"/>
<line x1="182.2" y1="992.1" x2="182.2" y2="1001.1" stroke="#000" stroke-width="3.5" stroke-linecap="butt"/>
<line x1="245.5" y1="992.1" x2="245.5" y2="1001.1" stroke="#000" stroke-width="3.5" stroke-linecap="butt"/>
<line x1="308.9" y1="992.1" x2="308.9" y2="1001.1" stroke="#000" stroke-width="3.5" stroke-linecap="butt"/>
<line x1="372.7" y1="992.1" x2="372.7" y2="1001.1" stroke="#000" stroke-width="3.5" stroke-linecap="butt"/>
<line x1="436.4" y1="992.1" x2="436.4" y2="1001.1" stroke="#000" stroke-width="3.5" stroke-linecap="butt"/>
<line x1="499.7" y1="992.1" x2="499.7" y2="1001.1" stroke="#000" stroke-width="3.5" stroke-linecap="butt"/>
<text transform="translate(31.0,812.6) rotate(-90)" text-anchor="middle" style="font-size:28.7px;stroke:#000;stroke-width:0.4px;">No. of colonies</text>
<text transform="translate(133.2,1020.0) rotate(-45)" text-anchor="end" style="font-size:28.5px;stroke:#000;stroke-width:0.4px;">gNT1</text>
<text transform="translate(184.0,1020.9) rotate(-45)" text-anchor="end" style="font-size:28.5px;stroke:#000;stroke-width:0.4px;">gAqr</text>
<text transform="translate(197.2,1034.3) rotate(-45)" text-anchor="end" style="font-size:16px;stroke:#000;stroke-width:0.4px;">(<tspan style="font-style:italic">P</tspan>=0.0005)</text>
<text transform="translate(260.2,1020.0) rotate(-45)" text-anchor="end" style="font-size:28.5px;stroke:#000;stroke-width:0.4px;">gMak16</text>
<text transform="translate(266.8,1038.0) rotate(-45)" text-anchor="end" style="font-size:16px;stroke:#000;stroke-width:0.4px;">(<tspan style="font-style:italic">P</tspan>&lt;0.0001)</text>
<text transform="translate(326.6,1019.0) rotate(-45)" text-anchor="end" style="font-size:28.5px;stroke:#000;stroke-width:0.4px;">gRnmt</text>
<text transform="translate(336.2,1038.5) rotate(-45)" text-anchor="end" style="font-size:16px;stroke:#000;stroke-width:0.4px;">(<tspan style="font-style:italic">P</tspan>=0.004)</text>
<text transform="translate(391.4,1020.0) rotate(-45)" text-anchor="end" style="font-size:28.5px;stroke:#000;stroke-width:0.4px;">gSart3</text>
<text transform="translate(410.2,1035.4) rotate(-45)" text-anchor="end" style="font-size:16px;stroke:#000;stroke-width:0.4px;">(<tspan style="font-style:italic">P</tspan>&lt;0.0001)</text>
<text transform="translate(458.1,1020.0) rotate(-45)" text-anchor="end" style="font-size:28.5px;stroke:#000;stroke-width:0.4px;">gSsb</text>
<text transform="translate(473.3,1034.4) rotate(-45)" text-anchor="end" style="font-size:16px;stroke:#000;stroke-width:0.4px;">(<tspan style="font-style:italic">P</tspan>=0.01)</text>
<text transform="translate(523.4,1020.0) rotate(-45)" text-anchor="end" style="font-size:28.5px;stroke:#000;stroke-width:0.4px;">gStau2</text>
<text transform="translate(533.9,1036.1) rotate(-45)" text-anchor="end" style="font-size:16px;stroke:#000;stroke-width:0.4px;">(<tspan style="font-style:italic">P</tspan>=0.0005)</text>
<line x1="662.5" y1="632.1" x2="662.5" y2="993.8" stroke="#000" stroke-width="3.5" stroke-linecap="butt"/>
<line x1="649.5" y1="992.0" x2="662.5" y2="992.0" stroke="#000" stroke-width="3.5" stroke-linecap="butt"/>
<text x="643.5" y="1001.9" text-anchor="end" style="font-size:24.5px;stroke:#000;stroke-width:0.4px;">0.0</text>
<line x1="649.5" y1="872.6" x2="662.5" y2="872.6" stroke="#000" stroke-width="3.5" stroke-linecap="butt"/>
<text x="643.5" y="882.5" text-anchor="end" style="font-size:24.5px;stroke:#000;stroke-width:0.4px;">0.5</text>
<line x1="649.5" y1="753.3" x2="662.5" y2="753.3" stroke="#000" stroke-width="3.5" stroke-linecap="butt"/>
<text x="643.5" y="763.2" text-anchor="end" style="font-size:24.5px;stroke:#000;stroke-width:0.4px;">1.0</text>
<line x1="649.5" y1="633.9" x2="662.5" y2="633.9" stroke="#000" stroke-width="3.5" stroke-linecap="butt"/>
<text x="643.5" y="643.8" text-anchor="end" style="font-size:24.5px;stroke:#000;stroke-width:0.4px;">1.5</text>
<path d="M684.0,992.0 L684.0,751.2 L718.8,751.2 L718.8,992.0" fill="#fff" stroke="#000" stroke-width="3.5" stroke-linejoin="miter"/>
<path d="M742.7,992.0 L742.7,690.0 L777.5,690.0 L777.5,992.0" fill="#fff" stroke="#000" stroke-width="3.5" stroke-linejoin="miter"/>
<path d="M801.6,992.0 L801.6,695.0 L836.4,695.0 L836.4,992.0" fill="#fff" stroke="#000" stroke-width="3.5" stroke-linejoin="miter"/>
<path d="M860.5,992.0 L860.5,915.7 L895.3,915.7 L895.3,992.0" fill="#fff" stroke="#000" stroke-width="3.5" stroke-linejoin="miter"/>
<path d="M919.1,992.0 L919.1,950.0 L953.9,950.0 L953.9,992.0" fill="#fff" stroke="#000" stroke-width="3.5" stroke-linejoin="miter"/>
<path d="M977.8,992.0 L977.8,858.0 L1012.6,858.0 L1012.6,992.0" fill="#fff" stroke="#000" stroke-width="3.5" stroke-linejoin="miter"/>
<path d="M1036.2,992.0 L1036.2,876.0 L1071.0,876.0 L1071.0,992.0" fill="#fff" stroke="#000" stroke-width="3.5" stroke-linejoin="miter"/>
<path d="M1094.9,992.0 L1094.9,901.0 L1129.7,901.0 L1129.7,992.0" fill="#fff" stroke="#000" stroke-width="3.5" stroke-linejoin="miter"/>
<circle cx="701.6" cy="703.5" r="7" fill="#000"/>
<circle cx="701.6" cy="794.0" r="7" fill="#000"/>
<circle cx="748.4" cy="700.6" r="7" fill="#000"/>
<circle cx="760.3" cy="673.5" r="7" fill="#000"/>
<circle cx="773.2" cy="688.7" r="7" fill="#000"/>
<circle cx="807.0" cy="697.8" r="7" fill="#000"/>
<circle cx="830.9" cy="686.8" r="7" fill="#000"/>
<circle cx="865.2" cy="900.0" r="7" fill="#000"/>
<circle cx="890.0" cy="902.0" r="7" fill="#000"/>
<circle cx="877.6" cy="940.5" r="7" fill="#000"/>
<circle cx="935.8" cy="918.0" r="7" fill="#000"/>
<circle cx="924.4" cy="968.2" r="7" fill="#000"/>
<circle cx="948.7" cy="956.3" r="7" fill="#000"/>
<circle cx="982.6" cy="858.5" r="7" fill="#000"/>
<circle cx="995.0" cy="850.0" r="7" fill="#000"/>
<circle cx="1007.4" cy="859.5" r="7" fill="#000"/>
<circle cx="1041.7" cy="881.9" r="7" fill="#000"/>
<circle cx="1054.6" cy="860.9" r="7" fill="#000"/>
<circle cx="1066.5" cy="879.0" r="7" fill="#000"/>
<circle cx="1100.4" cy="910.5" r="7" fill="#000"/>
<circle cx="1112.3" cy="873.3" r="7" fill="#000"/>
<circle cx="1124.2" cy="910.5" r="7" fill="#000"/>
<line x1="649.5" y1="992.0" x2="1151.0" y2="992.0" stroke="#000" stroke-width="3.5" stroke-linecap="butt"/>
<line x1="701.4" y1="992.0" x2="701.4" y2="1008.0" stroke="#000" stroke-width="3.5" stroke-linecap="butt"/>
<line x1="760.1" y1="992.0" x2="760.1" y2="1008.0" stroke="#000" stroke-width="3.5" stroke-linecap="butt"/>
<line x1="819.0" y1="992.0" x2="819.0" y2="1008.0" stroke="#000" stroke-width="3.5" stroke-linecap="butt"/>
<line x1="877.9" y1="992.0" x2="877.9" y2="1008.0" stroke="#000" stroke-width="3.5" stroke-linecap="butt"/>
<line x1="936.5" y1="992.0" x2="936.5" y2="1008.0" stroke="#000" stroke-width="3.5" stroke-linecap="butt"/>
<line x1="995.2" y1="992.0" x2="995.2" y2="1008.0" stroke="#000" stroke-width="3.5" stroke-linecap="butt"/>
<line x1="1053.6" y1="992.0" x2="1053.6" y2="1008.0" stroke="#000" stroke-width="3.5" stroke-linecap="butt"/>
<line x1="1112.3" y1="992.0" x2="1112.3" y2="1008.0" stroke="#000" stroke-width="3.5" stroke-linecap="butt"/>
<text transform="translate(597.3,818.2) rotate(-90)" text-anchor="middle" style="font-size:28.5px;stroke:#000;stroke-width:0.4px;">Relative expression</text>
<text transform="translate(705.4,1032.0) rotate(-45)" text-anchor="end" style="font-size:29px;stroke:#000;stroke-width:0.4px;">HSC</text>
<text transform="translate(764.1,1032.0) rotate(-45)" text-anchor="end" style="font-size:29px;stroke:#000;stroke-width:0.4px;">KLS</text>
<text transform="translate(823.0,1032.0) rotate(-45)" text-anchor="end" style="font-size:29px;stroke:#000;stroke-width:0.4px;">Lin-</text>
<text transform="translate(886.9,1033.0) rotate(-45)" text-anchor="end" style="font-size:29px;stroke:#000;stroke-width:0.4px;">Lin+</text>
<text transform="translate(944.5,1029.2) rotate(-45)" text-anchor="end" style="font-size:29px;stroke:#000;stroke-width:0.4px;">WBM</text>
<text transform="translate(996.4,1030.6) rotate(-45)" text-anchor="end" style="font-size:29px;stroke:#000;stroke-width:0.4px;">Leuk Lin-</text>
<text transform="translate(1062.6,1030.6) rotate(-45)" text-anchor="end" style="font-size:29px;stroke:#000;stroke-width:0.4px;">LSC</text>
<text transform="translate(1120.3,1031.7) rotate(-45)" text-anchor="end" style="font-size:29px;stroke:#000;stroke-width:0.4px;">Leuk Lin+</text>
<line x1="1289.4" y1="634.8" x2="1289.4" y2="995.8" stroke="#000" stroke-width="3.5" stroke-linecap="butt"/>
<line x1="1273.9" y1="994.0" x2="1289.4" y2="994.0" stroke="#000" stroke-width="3.5" stroke-linecap="butt"/>
<text x="1267.9" y="1003.9" text-anchor="end" style="font-size:24.5px;stroke:#000;stroke-width:0.4px;">0.0</text>
<line x1="1273.9" y1="874.8" x2="1289.4" y2="874.8" stroke="#000" stroke-width="3.5" stroke-linecap="butt"/>
<text x="1267.9" y="884.7" text-anchor="end" style="font-size:24.5px;stroke:#000;stroke-width:0.4px;">0.5</text>
<line x1="1273.9" y1="755.5" x2="1289.4" y2="755.5" stroke="#000" stroke-width="3.5" stroke-linecap="butt"/>
<text x="1267.9" y="765.4" text-anchor="end" style="font-size:24.5px;stroke:#000;stroke-width:0.4px;">1.0</text>
<line x1="1273.9" y1="636.3" x2="1289.4" y2="636.3" stroke="#000" stroke-width="3.5" stroke-linecap="butt"/>
<text x="1267.9" y="646.2" text-anchor="end" style="font-size:24.5px;stroke:#000;stroke-width:0.4px;">1.5</text>
<path d="M1312.6,994.0 L1312.6,758.5 L1348.4,758.5 L1348.4,994.0" fill="#fff" stroke="#000" stroke-width="3.5" stroke-linejoin="miter"/>
<path d="M1374.6,994.0 L1374.6,699.3 L1410.2,699.3 L1410.2,994.0" fill="#fff" stroke="#000" stroke-width="3.5" stroke-linejoin="miter"/>
<circle cx="1316.7" cy="748.6" r="7.2" fill="#000"/>
<circle cx="1343.8" cy="751.0" r="7.2" fill="#000"/>
<circle cx="1330.0" cy="767.8" r="7.2" fill="#000"/>
<circle cx="1392.2" cy="681.3" r="7.2" fill="#000"/>
<circle cx="1378.3" cy="708.4" r="7.2" fill="#000"/>
<circle cx="1406.0" cy="703.2" r="7.2" fill="#000"/>
<line x1="1274.0" y1="994.0" x2="1432.8" y2="994.0" stroke="#000" stroke-width="3.5" stroke-linecap="butt"/>
<line x1="1330.5" y1="994.0" x2="1330.5" y2="1009.0" stroke="#000" stroke-width="3.5" stroke-linecap="butt"/>
<line x1="1392.4" y1="994.0" x2="1392.4" y2="1009.0" stroke="#000" stroke-width="3.5" stroke-linecap="butt"/>
<text transform="translate(1222.5,815.4) rotate(-90)" text-anchor="middle" style="font-size:28.6px;stroke:#000;stroke-width:0.4px;">Relative Expression</text>
<text transform="translate(1352.6,1033.5) rotate(-45)" text-anchor="end" style="font-size:29.3px;stroke:#000;stroke-width:0.4px;">Empty Vec</text>
<text transform="translate(1406.5,1029.6) rotate(-45)" text-anchor="end" style="font-size:29.3px;stroke:#000;stroke-width:0.4px;">B/A</text>
<line x1="1562.4" y1="632.0" x2="1562.4" y2="995.0" stroke="#000" stroke-width="3.5" stroke-linecap="butt"/>
<line x1="1547.4" y1="993.2" x2="1562.4" y2="993.2" stroke="#000" stroke-width="3.5" stroke-linecap="butt"/>
<text x="1543.4" y="1003.1" text-anchor="end" style="font-size:24.5px;stroke:#000;stroke-width:0.4px;">0</text>
<line x1="1547.4" y1="921.3" x2="1562.4" y2="921.3" stroke="#000" stroke-width="3.5" stroke-linecap="butt"/>
<text x="1543.4" y="931.2" text-anchor="end" style="font-size:24.5px;stroke:#000;stroke-width:0.4px;">1</text>
<line x1="1547.4" y1="849.4" x2="1562.4" y2="849.4" stroke="#000" stroke-width="3.5" stroke-linecap="butt"/>
<text x="1543.4" y="859.3" text-anchor="end" style="font-size:24.5px;stroke:#000;stroke-width:0.4px;">2</text>
<line x1="1547.4" y1="777.5" x2="1562.4" y2="777.5" stroke="#000" stroke-width="3.5" stroke-linecap="butt"/>
<text x="1543.4" y="787.4" text-anchor="end" style="font-size:24.5px;stroke:#000;stroke-width:0.4px;">3</text>
<line x1="1547.4" y1="705.6" x2="1562.4" y2="705.6" stroke="#000" stroke-width="3.5" stroke-linecap="butt"/>
<text x="1543.4" y="715.5" text-anchor="end" style="font-size:24.5px;stroke:#000;stroke-width:0.4px;">4</text>
<line x1="1547.4" y1="633.7" x2="1562.4" y2="633.7" stroke="#000" stroke-width="3.5" stroke-linecap="butt"/>
<text x="1543.4" y="643.6" text-anchor="end" style="font-size:24.5px;stroke:#000;stroke-width:0.4px;">5</text>
<path d="M1585.6,993.2 L1585.6,924.0 L1621.6,924.0 L1621.6,993.2" fill="#fff" stroke="#000" stroke-width="3.5" stroke-linejoin="miter"/>
<path d="M1648.0,993.2 L1648.0,712.6 L1684.2,712.6 L1684.2,993.2" fill="#fff" stroke="#000" stroke-width="3.5" stroke-linejoin="miter"/>
<circle cx="1589.9" cy="914.2" r="7.2" fill="#000"/>
<circle cx="1617.6" cy="918.2" r="7.2" fill="#000"/>
<circle cx="1589.9" cy="931.5" r="7.2" fill="#000"/>
<circle cx="1666.0" cy="669.8" r="7.2" fill="#000"/>
<circle cx="1652.7" cy="732.0" r="7.2" fill="#000"/>
<circle cx="1679.3" cy="728.3" r="7.2" fill="#000"/>
<line x1="1547.3" y1="993.2" x2="1707.5" y2="993.2" stroke="#000" stroke-width="3.5" stroke-linecap="butt"/>
<line x1="1603.4" y1="993.2" x2="1603.4" y2="1008.7" stroke="#000" stroke-width="3.5" stroke-linecap="butt"/>
<line x1="1666.2" y1="993.2" x2="1666.2" y2="1008.7" stroke="#000" stroke-width="3.5" stroke-linecap="butt"/>
<text transform="translate(1507.0,815.4) rotate(-90)" text-anchor="middle" style="font-size:28.6px;stroke:#000;stroke-width:0.4px;">Relative Expression</text>
<text transform="translate(1609.0,1032.0) rotate(-45)" text-anchor="end" style="font-size:29.3px;stroke:#000;stroke-width:0.4px;">Empty Vec</text>
<text transform="translate(1681.0,1031.3) rotate(-45)" text-anchor="end" style="font-size:29.3px;stroke:#000;stroke-width:0.4px;">B/A + N/H</text>
<line x1="1845.5" y1="637.4" x2="1845.5" y2="999.5" stroke="#000" stroke-width="3.5" stroke-linecap="butt"/>
<line x1="1829.5" y1="997.8" x2="1845.5" y2="997.8" stroke="#000" stroke-width="3.5" stroke-linecap="butt"/>
<text x="1823.5" y="1007.7" text-anchor="end" style="font-size:24.5px;stroke:#000;stroke-width:0.4px;">0.0</text>
<line x1="1829.5" y1="878.2" x2="1845.5" y2="878.2" stroke="#000" stroke-width="3.5" stroke-linecap="butt"/>
<text x="1823.5" y="888.1" text-anchor="end" style="font-size:24.5px;stroke:#000;stroke-width:0.4px;">0.5</text>
<line x1="1829.5" y1="758.7" x2="1845.5" y2="758.7" stroke="#000" stroke-width="3.5" stroke-linecap="butt"/>
<text x="1823.5" y="768.6" text-anchor="end" style="font-size:24.5px;stroke:#000;stroke-width:0.4px;">1.0</text>
<line x1="1829.5" y1="639.1" x2="1845.5" y2="639.1" stroke="#000" stroke-width="3.5" stroke-linecap="butt"/>
<text x="1823.5" y="649.0" text-anchor="end" style="font-size:24.5px;stroke:#000;stroke-width:0.4px;">1.5</text>
<path d="M1865.7,997.8 L1865.7,760.3 L1896.3,760.3 L1896.3,997.8" fill="#fff" stroke="#000" stroke-width="3.5" stroke-linejoin="miter"/>
<path d="M1920.8,997.8 L1920.8,838.7 L1951.4,838.7 L1951.4,997.8" fill="#fff" stroke="#000" stroke-width="3.5" stroke-linejoin="miter"/>
<path d="M1976.0,997.8 L1976.0,904.8 L2006.6,904.8 L2006.6,997.8" fill="#fff" stroke="#000" stroke-width="3.5" stroke-linejoin="miter"/>
<circle cx="1881.0" cy="729.8" r="7.2" fill="#000"/>
<circle cx="1881.0" cy="763.8" r="7.2" fill="#000"/>
<circle cx="1881.0" cy="778.0" r="7.2" fill="#000"/>
<circle cx="1925.0" cy="828.4" r="7.2" fill="#000"/>
<circle cx="1947.7" cy="830.5" r="7.2" fill="#000"/>
<circle cx="1936.3" cy="847.6" r="7.2" fill="#000"/>
<circle cx="1981.8" cy="904.8" r="7.2" fill="#000"/>
<circle cx="1992.8" cy="888.0" r="7.2" fill="#000"/>
<circle cx="2003.8" cy="903.8" r="7.2" fill="#000"/>
<line x1="1829.5" y1="997.8" x2="2028.6" y2="997.8" stroke="#000" stroke-width="3.5" stroke-linecap="butt"/>
<line x1="1881.7" y1="997.8" x2="1881.7" y2="1012.8" stroke="#000" stroke-width="3.5" stroke-linecap="butt"/>
<line x1="1935.6" y1="997.8" x2="1935.6" y2="1012.8" stroke="#000" stroke-width="3.5" stroke-linecap="butt"/>
<line x1="1990.4" y1="997.8" x2="1990.4" y2="1012.8" stroke="#000" stroke-width="3.5" stroke-linecap="butt"/>
<text transform="translate(1782.0,816.5) rotate(-90)" text-anchor="middle" style="font-size:28.6px;stroke:#000;stroke-width:0.4px;">Relative Expression</text>
<text transform="translate(1897.9,1040.4) rotate(-45)" text-anchor="end" style="font-size:24.5px;stroke:#000;stroke-width:0.4px;">0uM</text>
<text transform="translate(1950.6,1040.4) rotate(-45)" text-anchor="end" style="font-size:24.5px;stroke:#000;stroke-width:0.4px;">0.5uM</text>
<text transform="translate(1994.8,1040.4) rotate(-45)" text-anchor="end" style="font-size:24.5px;stroke:#000;stroke-width:0.4px;">5uM</text>
<text x="1928.8" y="1119.4" text-anchor="middle" style="font-size:28px;stroke:#000;stroke-width:0.4px;">Gleevec Dose</text>
</svg>
</body></html>
